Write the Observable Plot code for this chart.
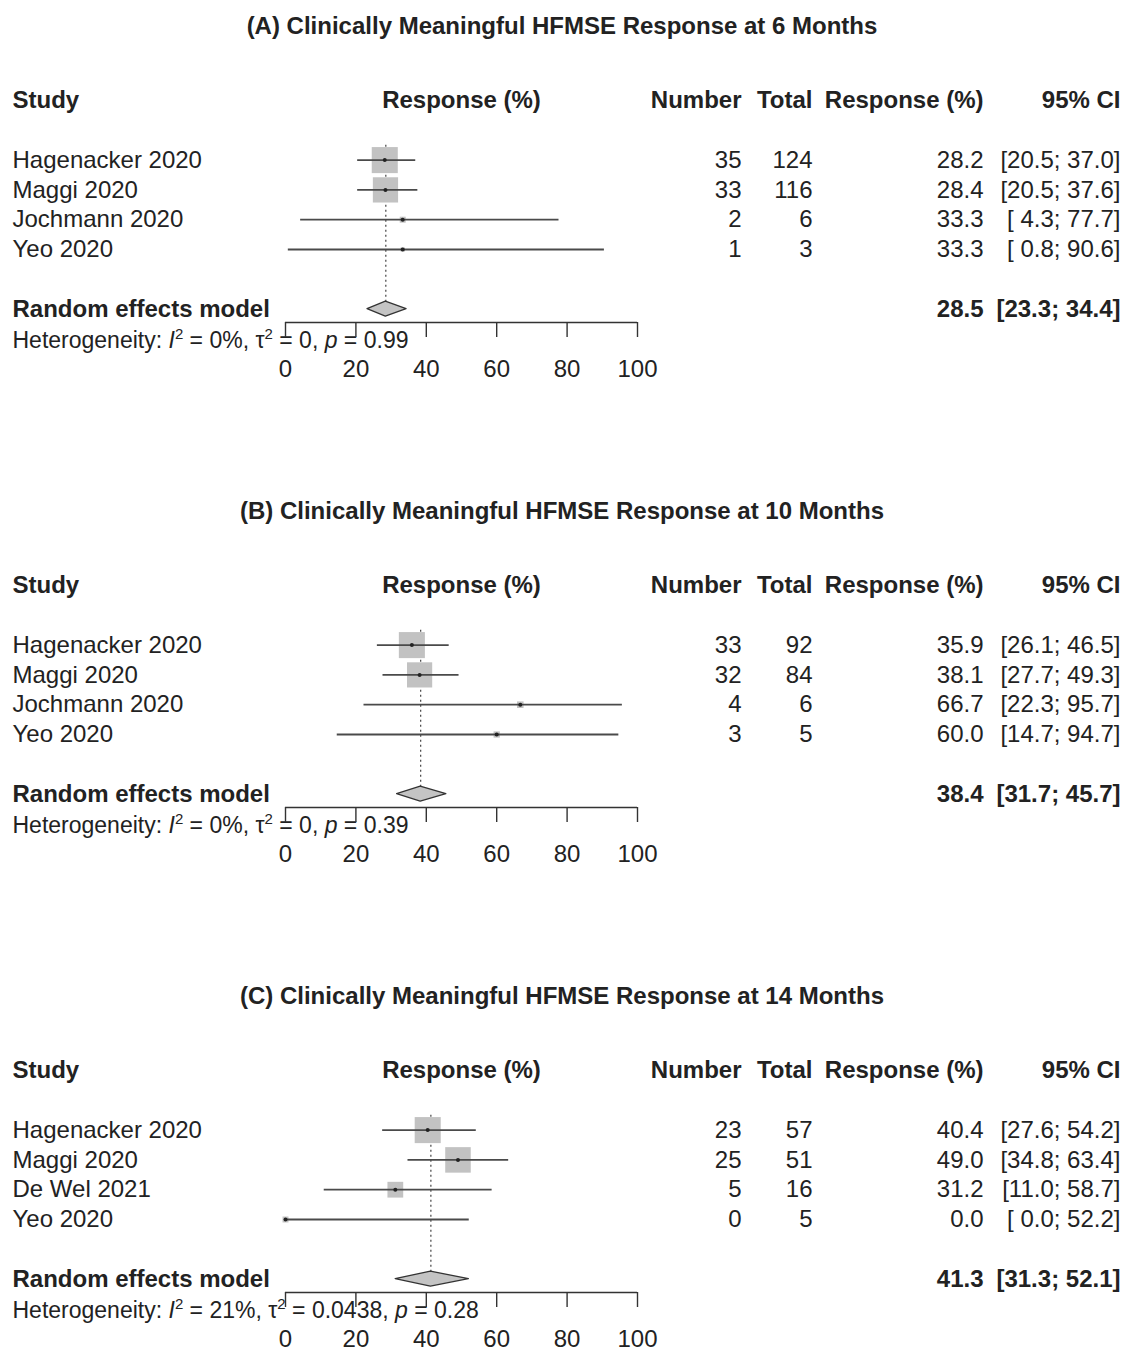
<!DOCTYPE html>
<html>
<head>
<meta charset="utf-8">
<script src="https://cdn.jsdelivr.net/npm/d3@7"></script>
<script src="https://cdn.jsdelivr.net/npm/@observablehq/plot@0.6"></script>
<style>
  html, body { margin: 0; padding: 0; background: #fff; }
  body { width: 1124px; font-family: "Liberation Sans", Arial, sans-serif; color: #222; }
  .title { height: 60px; box-sizing: border-box; padding-top: 14px; line-height: 24px;
           text-align: center; font-weight: bold; font-size: 24px; color: #222; }
  svg { display: block; }
</style>
</head>
<body>
<div id="root"></div>
<script>
// ---------------- Data ----------------
const headerCols = ["Study", "Response (%)", "Number", "Total", "Response (%)", "95% CI"];
const modelLabel = "Random effects model";
const hetLabel = "Heterogeneity";
const axisTicks = [0, 20, 40, 60, 80, 100];

const titleA = "(A) Clinically Meaningful HFMSE Response at 6 Months";
const studiesA = ["Hagenacker 2020", "Maggi 2020", "Jochmann 2020", "Yeo 2020"];
const eventsA = [35, 33, 2, 1];
const totalsA = [124, 116, 6, 3];
const responseA = [28.2, 28.4, 33.3, 33.3];
const lowerA = [20.5, 20.5, 4.3, 0.8];
const upperA = [37.0, 37.6, 77.7, 90.6];
const weightA = [49.5, 46.5, 2.6, 1.3];
const modelA = [28.5, 23.3, 34.4];
const hetA = ["0%", "0", "0.99"];

const titleB = "(B) Clinically Meaningful HFMSE Response at 10 Months";
const studiesB = ["Hagenacker 2020", "Maggi 2020", "Jochmann 2020", "Yeo 2020"];
const eventsB = [33, 32, 4, 3];
const totalsB = [92, 84, 6, 5];
const responseB = [35.9, 38.1, 66.7, 60.0];
const lowerB = [26.1, 27.7, 22.3, 14.7];
const upperB = [46.5, 49.3, 95.7, 94.7];
const weightB = [48.7, 45.5, 3.1, 2.8];
const modelB = [38.4, 31.7, 45.7];
const hetB = ["0%", "0", "0.39"];

const titleC = "(C) Clinically Meaningful HFMSE Response at 14 Months";
const studiesC = ["Hagenacker 2020", "Maggi 2020", "De Wel 2021", "Yeo 2020"];
const eventsC = [23, 25, 5, 0];
const totalsC = [57, 51, 16, 5];
const responseC = [40.4, 49.0, 31.2, 0.0];
const lowerC = [27.6, 34.8, 11.0, 0.0];
const upperC = [54.2, 63.4, 58.7, 52.2];
const weightC = [42.3, 40.6, 15.5, 2.2];
const modelC = [41.3, 31.3, 52.1];
const hetC = ["21%", "0.0438", "0.28"];

// ---------------- Layout ----------------
const W = 1124;
const FONT = "Liberation Sans, Arial, sans-serif";
const FS = 24;
const yMax = 7.45;         // row units at axis line
const modelRow = 7;
const hetRow = 8.05;
const dxStudy = -273;      // from frame left
const dxNumber = 104, dxTotal = 175, dxResp = 346, dxCI = 483;   // from frame right

const fmt1 = v => v.toFixed(1);
const ciText = (lo, hi) => "[" + (lo < 10 ? " " : "") + fmt1(lo) + "; " + fmt1(hi) + "]";

function panel(title, studies, events, totals, response, lower, upper, weight, model, het, height) {
  const rows = studies.map((s, i) => ({
    study: s, n: events[i], N: totals[i], p: response[i],
    lo: lower[i], hi: upper[i], w: weight[i], row: i + 2
  }));
  const h = 0.25;
  const diamond = [
    {x: model[1], y1: modelRow, y2: modelRow},
    {x: model[0], y1: modelRow - h, y2: modelRow + h},
    {x: model[2], y1: modelRow, y2: modelRow}
  ];
  const one = [{}];
  const txt = (data, opts) => Plot.text(data, {fontSize: FS, fill: "#222", ...opts});

  const chart = Plot.plot({
    width: W, height,
    marginTop: 40, marginLeft: 285, marginRight: W - 637, marginBottom: height - 262,
    x: {domain: [0, 100], label: null},
    y: {domain: [0, yMax], reverse: true, axis: null},
    r: {type: "sqrt", domain: [0, d3.max(weight)], range: [0, 14.7]},
    style: {fontFamily: FONT, fontSize: FS + "px", color: "#222", background: "white", overflow: "visible"},
    marks: [
      // header row
      txt(one, {y: 0, text: () => headerCols[0], frameAnchor: "left", dx: dxStudy, textAnchor: "start", fontWeight: "bold"}),
      txt(one, {y: 0, text: () => headerCols[1], frameAnchor: "middle", textAnchor: "middle", fontWeight: "bold"}),
      txt(one, {y: 0, text: () => headerCols[2], frameAnchor: "right", dx: dxNumber, textAnchor: "end", fontWeight: "bold"}),
      txt(one, {y: 0, text: () => headerCols[3], frameAnchor: "right", dx: dxTotal, textAnchor: "end", fontWeight: "bold"}),
      txt(one, {y: 0, text: () => headerCols[4], frameAnchor: "right", dx: dxResp, textAnchor: "end", fontWeight: "bold"}),
      txt(one, {y: 0, text: () => headerCols[5], frameAnchor: "right", dx: dxCI, textAnchor: "end", fontWeight: "bold"}),
      // study columns
      txt(rows, {y: "row", text: "study", frameAnchor: "left", dx: dxStudy, textAnchor: "start"}),
      txt(rows, {y: "row", text: d => String(d.n), frameAnchor: "right", dx: dxNumber, textAnchor: "end"}),
      txt(rows, {y: "row", text: d => String(d.N), frameAnchor: "right", dx: dxTotal, textAnchor: "end"}),
      txt(rows, {y: "row", text: d => fmt1(d.p), frameAnchor: "right", dx: dxResp, textAnchor: "end"}),
      txt(rows, {y: "row", text: d => ciText(d.lo, d.hi), frameAnchor: "right", dx: dxCI, textAnchor: "end"}),
      // model row text
      txt(one, {y: modelRow, text: () => modelLabel, frameAnchor: "left", dx: dxStudy, textAnchor: "start", fontWeight: "bold"}),
      txt(one, {y: modelRow, text: () => fmt1(model[0]), frameAnchor: "right", dx: dxResp, textAnchor: "end", fontWeight: "bold"}),
      txt(one, {y: modelRow, text: () => ciText(model[1], model[2]), frameAnchor: "right", dx: dxCI, textAnchor: "end", fontWeight: "bold"}),
      // heterogeneity (rich text filled in below)
      txt(one, {y: hetRow, text: () => hetLabel, frameAnchor: "left", dx: dxStudy, textAnchor: "start", fontSize: 23}),
      // forest marks
      Plot.ruleX([model[0]], {y1: 1.5, y2: modelRow, stroke: "#444", strokeWidth: 1.2, strokeDasharray: "2,3"}),
      Plot.dot(rows, {x: "p", y: "row", r: "w", symbol: "square", fill: "#c2c2c2", stroke: "none"}),
      Plot.ruleY(rows, {y: "row", x1: "lo", x2: "hi", stroke: "#4a4a4a", strokeWidth: 1.8}),
      Plot.dot(rows, {x: "p", y: "row", r: 2, fill: "#222", stroke: "none"}),
      Plot.areaY(diamond, {x: "x", y1: "y1", y2: "y2", fill: "#c4c4c4", stroke: "#333", strokeWidth: 1.3}),
      // axis
      Plot.ruleY([yMax], {x1: 0, x2: 100, stroke: "#333", strokeWidth: 1.4}),
      Plot.axisX({ticks: axisTicks, tickSize: 15, tickPadding: 22, fontSize: FS, label: null, stroke: "#333", strokeWidth: 1.4, fill: "#222"})
    ]
  });

  // rich heterogeneity text (italic / superscripts)
  const t = Array.from(chart.querySelectorAll("text")).find(e => e.textContent === hetLabel);
  if (t) {
    t.textContent = "";
    const parts = [
      ["Heterogeneity: ", ""], ["I", "it"], ["2", "sup"], [" = " + het[0] + ", \u03C4", ""], ["2", "sup"],
      [" = " + het[1] + ", ", ""], ["p", "it"], [" = " + het[2], ""]
    ];
    let prevSup = false;
    for (const [s, kind] of parts) {
      const ts = document.createElementNS("http://www.w3.org/2000/svg", "tspan");
      ts.textContent = s;
      if (kind === "it") ts.setAttribute("font-style", "italic");
      if (kind === "sup") { ts.setAttribute("font-size", "15"); ts.setAttribute("dy", "-9"); }
      else if (prevSup) ts.setAttribute("dy", "9");
      prevSup = kind === "sup";
      t.appendChild(ts);
    }
  }

  const wrap = document.createElement("div");
  const ttl = document.createElement("div");
  ttl.className = "title";
  ttl.textContent = title;
  wrap.appendChild(ttl);
  wrap.appendChild(chart);
  return wrap;
}

const root = document.getElementById("root");
root.appendChild(panel(titleA, studiesA, eventsA, totalsA, responseA, lowerA, upperA, weightA, modelA, hetA, 425));
root.appendChild(panel(titleB, studiesB, eventsB, totalsB, responseB, lowerB, upperB, weightB, modelB, hetB, 425));
root.appendChild(panel(titleC, studiesC, eventsC, totalsC, responseC, lowerC, upperC, weightC, modelC, hetC, 318));
</script>
</body>
</html>
